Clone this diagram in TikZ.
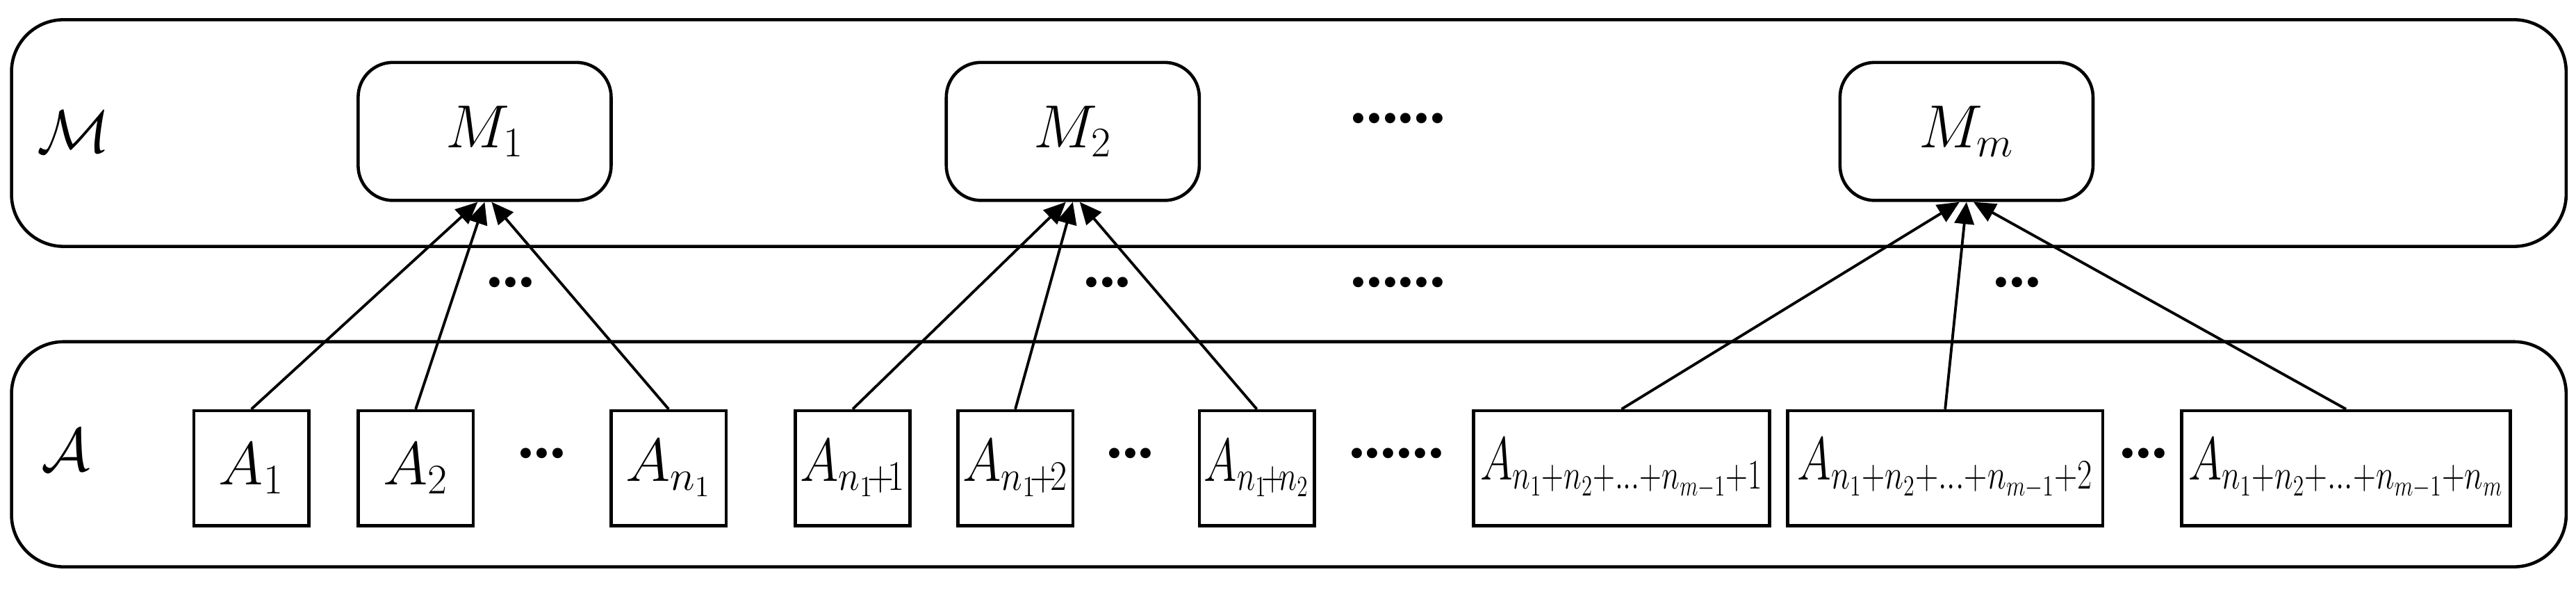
\documentclass[tikz,border=0pt]{standalone}
\usepackage{fontspec}
\setmainfont{Liberation Serif}
\usepackage{graphicx}
\usetikzlibrary{arrows.meta}
\newcommand{\fitw}[2]{\resizebox{#1\dimexpr 0.02364cm\relax}{\height}{#2}}
\begin{document}
\begin{tikzpicture}[x=0.02364cm,y=-0.02364cm,
  outer/.style={draw,line width=1.3pt,rounded corners=0.75cm},
  mbox/.style={draw,line width=1.3pt,rounded corners=0.5cm,minimum width=154*0.02364cm,minimum height=84*0.02364cm,font=\fontsize{24}{28}\selectfont},
  abox/.style={draw,line width=1.3pt,minimum height=70*0.02364cm,inner sep=0pt,font=\fontsize{24}{28}\selectfont},
  arr/.style={line width=1.1pt,-{Triangle[length=9pt,width=8pt]}},
  dots/.style={font=\fontsize{26}{28}\selectfont\bfseries}]
\useasboundingbox (0,0) rectangle (1568,358.7);
\node[outer,minimum width=1555*0.02364cm,minimum height=138*0.02364cm] (top) at (784.5,81) {};
\node[outer,minimum width=1555*0.02364cm,minimum height=137*0.02364cm] (bot) at (784.5,276.5) {};
\node[font=\fontsize{26}{28}\selectfont] (lm) at (45,80) {$\mathcal{M}$};
\node[font=\fontsize{26}{28}\selectfont] (la) at (40,274) {$\mathcal{A}$};
\node[mbox] (M1) at (295,80) {$M_1$};
\node[mbox] (M2) at (653,80) {$M_2$};
\node[mbox] (Mm) at (1197,80) {$M_m$};
\node[dots] (td) at (851,72) {......};
\node[abox,minimum width=70*0.02364cm] (A1) at (153,285) {$A_1$};
\node[abox,minimum width=70*0.02364cm] (A2) at (253,285) {$A_2$};
\node[abox,minimum width=70*0.02364cm] (An1) at (407,285) {$A_{n_1}$};
\node[abox,minimum width=70*0.02364cm] (B1) at (519,285) {\fitw{64}{$A_{n_1\!+\!1}$}};
\node[abox,minimum width=70*0.02364cm] (B2) at (618,285) {\fitw{64}{$A_{n_1\!+\!2}$}};
\node[abox,minimum width=70*0.02364cm] (B3) at (765,285) {\fitw{64}{$A_{n_1\!+\!n_2}$}};
\node[abox,minimum width=180*0.02364cm] (C1) at (987,285) {\fitw{172}{$A_{n_1+n_2+\ldots+n_{m-1}+1}$}};
\node[abox,minimum width=192*0.02364cm] (C2) at (1184,285) {\fitw{180}{$A_{n_1+n_2+\ldots+n_{m-1}+2}$}};
\node[abox,minimum width=200*0.02364cm] (C3) at (1428,285) {\fitw{192}{$A_{n_1+n_2+\ldots+n_{m-1}+n_m}$}};
\node[dots] (d1) at (330,276) {...};
\node[dots] (d2) at (688,276) {...};
\node[dots] (d3) at (850,276) {......};
\node[dots] (d4) at (1305,276) {...};
\node[dots] (m1) at (311,172) {...};
\node[dots] (m2) at (674,172) {...};
\node[dots] (m3) at (851,172) {......};
\node[dots] (m4) at (1228,172) {...};
\draw[arr] (A1.north) -- ([xshift=-0.1cm]M1.south);
\draw[arr] (A2.north) -- (M1.south);
\draw[arr] (An1.north) -- ([xshift=0.1cm]M1.south);
\draw[arr] (B1.north) -- ([xshift=-0.1cm]M2.south);
\draw[arr] (B2.north) -- (M2.south);
\draw[arr] (B3.north) -- ([xshift=0.1cm]M2.south);
\draw[arr] (C1.north) -- ([xshift=-0.1cm]Mm.south);
\draw[arr] (C2.north) -- (Mm.south);
\draw[arr] (C3.north) -- ([xshift=0.1cm]Mm.south);
\end{tikzpicture}
\end{document}
